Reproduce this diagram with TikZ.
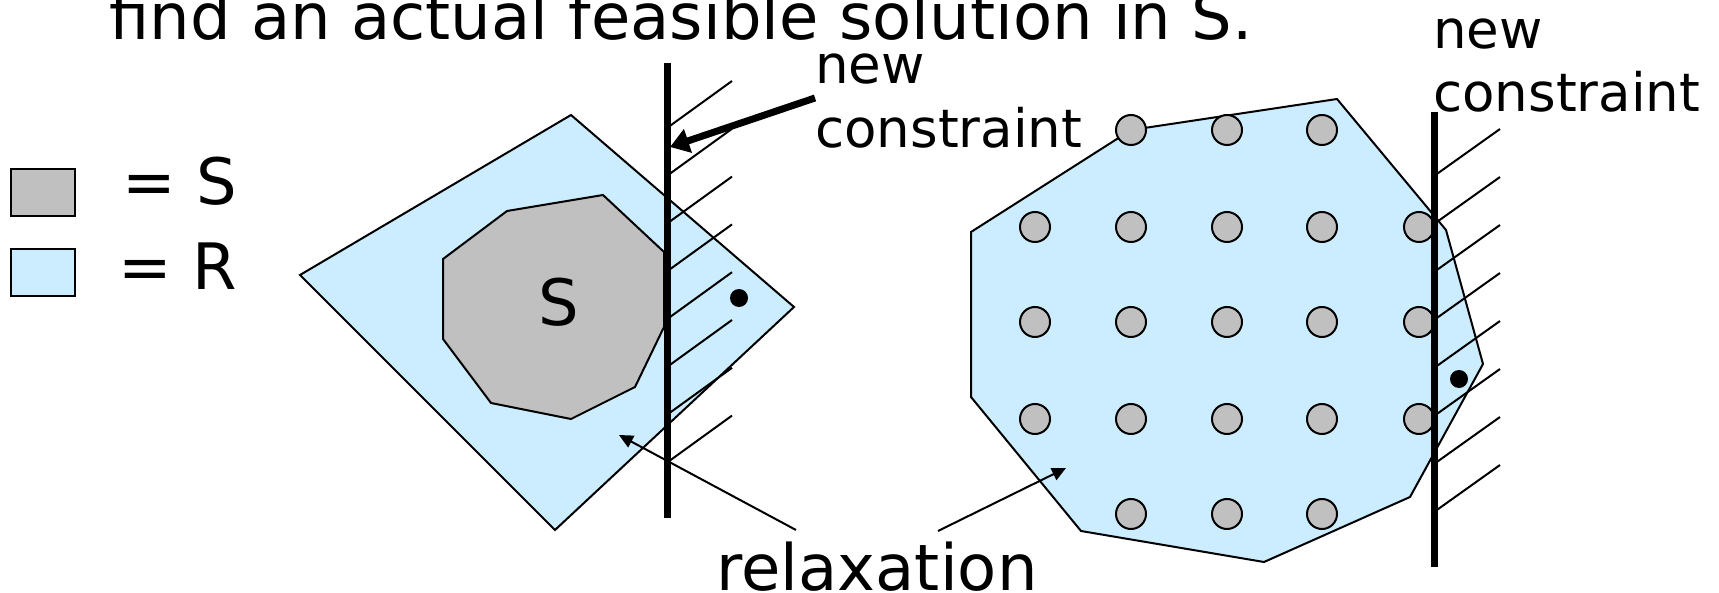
\documentclass[tikz,border=0pt]{standalone}
\usepackage{fontspec}
\setmainfont{DejaVu Sans}
\usetikzlibrary{arrows.meta}
\definecolor{relaxblue}{HTML}{CCECFF}
\definecolor{solgray}{HTML}{C0C0C0}

\begin{document}
\begin{tikzpicture}[x=1pt, y=-1pt,
  region/.style={draw, line width=2pt, line join=miter},
  key/.style={draw, line width=2pt, minimum width=64pt, minimum height=47pt, inner sep=0pt},
  pt/.style={circle, draw, line width=2pt, fill=solgray, minimum size=30pt, inner sep=0pt},
  dot/.style={circle, fill=black, minimum size=18pt, inner sep=0pt},
  wall/.style={line width=7pt},
  hatch/.style={line width=2pt},
  lbl/.style={font=\fontsize{64}{77}\selectfont, inner sep=0pt},
  cons/.style={font=\fontsize{53}{64}\selectfont, inner sep=0pt, anchor=base west},
  arr/.style={-{Triangle[length=14pt,width=13pt]}, line width=2pt},
  bigarr/.style={-{Triangle[length=19pt,width=24pt]}, line width=7pt}
]
  \useasboundingbox (0,0) rectangle (1719,593);

  % title and legend
  \node[lbl, anchor=base] (title) at (681,40) {find an actual feasible solution in S.};
  \node[key, fill=solgray] (keyS) at (43,192.5) {};
  \node[key, fill=relaxblue] (keyR) at (43,273) {};
  \node[lbl, anchor=base east] (eqS) at (237,205) {= S};
  \node[lbl, anchor=base east] (eqR) at (237,290) {= R};

  % left: relaxation R and the set S
  \draw[region, fill=relaxblue] (300,275) -- (571,115) -- (794,307) -- (555,530) -- cycle;
  \draw[region, fill=solgray] (443,259) -- (507,211) -- (603,195) -- (664,252) -- (664,327)
    -- (635,387) -- (571,419) -- (491,403) -- (443,339) -- cycle;
  \node[lbl, anchor=base] (setS) at (559,326) {S};
  \foreach \k in {0,...,7}{
    \draw[hatch] (667,128+47.8*\k) -- (732,81+47.8*\k);}
  \draw[wall] (667,63) -- (667,518);
  \node[dot] (optL) at (739,298) {};

  % right: integer points inside the relaxation
  \draw[region, fill=relaxblue] (971,232) -- (1131,130) -- (1337,99) -- (1446,230) -- (1483,364)
    -- (1410,497) -- (1264,562) -- (1081,531) -- (971,397) -- cycle;
  \foreach \c/\x in {1/1035,2/1131,3/1227,4/1322,5/1419}{
    \foreach \r/\y in {2/227,3/322,4/419}{
      \node[pt] (p\r\c) at (\x,\y) {};}}
  \foreach \c/\x in {2/1131,3/1227,4/1322}{
    \node[pt] (p1\c) at (\x,130) {};
    \node[pt] (p5\c) at (\x,514) {};}
  \foreach \k in {0,...,7}{
    \draw[hatch] (1434,176+48*\k) -- (1500,129+48*\k);}
  \draw[wall] (1434,112) -- (1434,567);
  \node[dot] (optR) at (1459,379) {};

  % labels and pointers
  \node[cons] (newL) at (815,84) {new};
  \node[cons] (consL) at (815,148) {constraint};
  \node[cons] (newR) at (1433,49) {new};
  \node[cons] (consR) at (1433,112) {constraint};
  \node[lbl, anchor=base] (relax) at (877,590) {relaxation};
  \coordinate (bigtail) at (815,98);
  \coordinate (bigtip) at (670,147);
  \draw[bigarr] (bigtail) -- (bigtip);
  \coordinate (rtailL) at (796,530);
  \coordinate (rtipL) at (619,435);
  \coordinate (rtailR) at (938,531);
  \coordinate (rtipR) at (1066,468);
  \draw[arr] (rtailL) -- (rtipL);
  \draw[arr] (rtailR) -- (rtipR);
\end{tikzpicture}
\end{document}
